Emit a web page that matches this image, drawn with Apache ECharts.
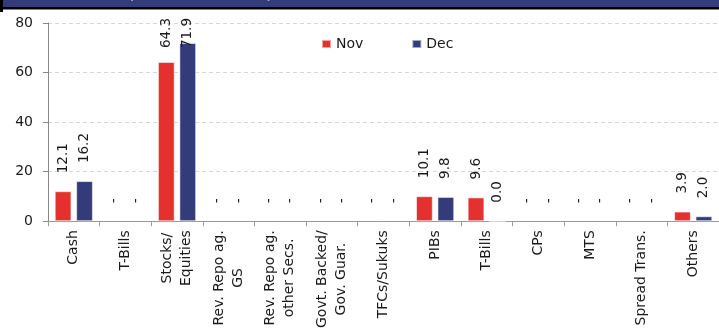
<!DOCTYPE html>
<html>
<head>
<meta charset="utf-8">
<script src="https://cdn.jsdelivr.net/npm/echarts@6/dist/echarts.min.js"></script>
<style>
  html, body { margin: 0; padding: 0; background: #fff; }
  #chart { width: 719px; height: 331px; }
</style>
</head>
<body>
<div id="chart"></div>
<script>
// Asset allocation by instrument, November vs December
const categories = ['Cash', 'T-Bills', 'Stocks/\nEquities', 'Rev. Repo ag.\nGS', 'Rev. Repo ag.\nother Secs.',
  'Govt. Backed/\nGov. Guar.', 'TFCs/Sukuks', 'PIBs', 'T-Bills', 'CPs', 'MTS', 'Spread Trans.', 'Others'];
const seriesNames = ['Nov', 'Dec'];
const novValues = [12.1, 0, 64.3, 0, 0, 0, 0, 10.1, 9.6, 0, 0, 0, 3.9];
const decValues = [16.2, 0, 71.9, 0, 0, 0, 0, 9.8, 0.04, 0, 0, 0, 2.0];
const yTicks = { min: 0, max: 80, interval: 20 };
const titleText = 'Asset Allocation (Percent share of total)';

const FONT = "'DejaVu Sans', 'Liberation Sans', sans-serif";
const RED = '#E5312E';
const NAVY = '#343B7B';
const LABEL_SIZE = 13.5;
const LABEL_GAP = 18;

const chart = echarts.init(document.getElementById('chart'), null, { renderer: 'canvas' });

const measureCtx = document.createElement('canvas').getContext('2d');
function textWidth(str, font) {
  measureCtx.font = font;
  return measureCtx.measureText(str).width;
}

function fmt(v) { return v === 0 ? '-' : v.toFixed(1); }

// Title: sized so the bracketed part spans its slot in the header band
const titleFontBase = 14;
const titleFont = (s) => 'bold ' + s + 'px ' + FONT;
const parenPart = titleText.slice(titleText.indexOf('('));
const titleSize = titleFontBase * 143 / textWidth(parenPart, titleFont(titleFontBase));
const prefixW = textWidth(titleText.slice(0, titleText.indexOf('(')), titleFont(titleSize));

const grid = { left: 48, right: -1, top: 23, bottom: 108, containLabel: false };

function makeSeries(name, values, color, dists) {
  return {
    name: name,
    type: 'bar',
    barCategoryGap: '26%',
    barGap: '28%',
    itemStyle: { color: color, borderColor: 'rgba(255,255,255,0.55)', borderWidth: 1 },
    label: {
      show: true,
      position: 'top',
      rotate: 90,
      align: 'left',
      verticalAlign: 'middle',
      distance: LABEL_GAP,
      fontFamily: FONT,
      fontSize: LABEL_SIZE,
      color: '#1a1a1a',
      formatter: (p) => fmt(p.value)
    },
    data: values.map((v, i) => {
      const item = { value: v };
      if (v === 0) item.itemStyle = { borderWidth: 0 };
      if (dists) item.label = { distance: dists[i] };
      return item;
    })
  };
}

const option = {
  backgroundColor: '#fff',
  animation: false,
  grid: grid,
  legend: {
    data: seriesNames,
    left: 321,
    top: 37,
    padding: 0,
    icon: 'rect',
    itemWidth: 9,
    itemHeight: 8,
    itemGap: 48,
    textStyle: { fontFamily: FONT, fontSize: 14, color: '#1a1a1a' }
  },
  xAxis: {
    type: 'category',
    data: categories,
    axisLine: { lineStyle: { color: '#9a9a9a', width: 1 } },
    axisTick: { show: true, length: 5, lineStyle: { color: '#9a9a9a' } },
    axisLabel: {
      interval: 0,
      rotate: 90,
      margin: 9,
      fontFamily: FONT,
      fontSize: 14,
      color: '#1a1a1a',
      formatter: (v) => v.split('\n').map(s => '{c|' + s + '}').join('\n'),
      rich: { c: { align: 'center', fontFamily: FONT, fontSize: 14, lineHeight: 19, color: '#1a1a1a' } }
    }
  },
  yAxis: {
    type: 'value',
    min: yTicks.min,
    max: yTicks.max,
    interval: yTicks.interval,
    axisLine: { show: true, lineStyle: { color: '#888', width: 1 } },
    axisTick: { show: true, length: 5, lineStyle: { color: '#888' } },
    axisLabel: { margin: 15, fontFamily: FONT, fontSize: 14, color: '#1a1a1a' },
    splitLine: { show: true, lineStyle: { color: '#d6d6d6', type: [4, 3], width: 1 } }
  },
  graphic: [
    { type: 'rect', left: 0, top: 0, shape: { width: 719, height: 7 }, style: { fill: '#343B78' }, z: 10 },
    {
      type: 'text', z: 11,
      style: {
        x: 129 - prefixW, y: 2, text: titleText,
        fill: '#fff', font: titleFont(titleSize.toFixed(2)), textAlign: 'left', textVerticalAlign: 'bottom'
      }
    },
    { type: 'rect', left: 0, top: 7, shape: { width: 719, height: 2.5 }, style: { fill: '#000' }, z: 12 },
    { type: 'rect', left: 0, top: 0, shape: { width: 3, height: 12 }, style: { fill: '#000' }, z: 12 }
  ],
  series: [makeSeries(seriesNames[0], novValues, RED), makeSeries(seriesNames[1], decValues, NAVY)]
};

chart.setOption(option);

// Keep value labels inside the plot: labels that would run past the top are pulled down
const labelFont = LABEL_SIZE + 'px ' + FONT;
const topLimit = grid.top - 5;
function distances(values) {
  return values.map(v => {
    const yPix = chart.convertToPixel({ yAxisIndex: 0 }, v);
    const w = textWidth(fmt(v), labelFont);
    const end = yPix - LABEL_GAP - w;
    return end < grid.top ? yPix - topLimit - w : LABEL_GAP;
  });
}
chart.setOption({
  series: [makeSeries(seriesNames[0], novValues, RED, distances(novValues)),
           makeSeries(seriesNames[1], decValues, NAVY, distances(decValues))]
});
</script>
</body>
</html>
